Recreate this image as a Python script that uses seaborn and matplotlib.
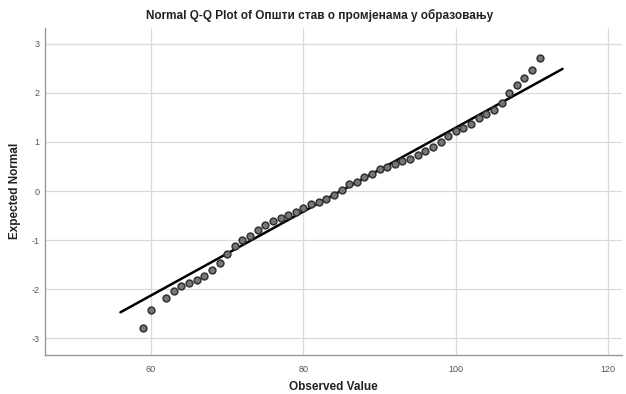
import numpy as np
import pandas as pd
import matplotlib
matplotlib.use("Agg")
import matplotlib.pyplot as plt
import seaborn as sns

# Data
observed = [59, 60, 62, 63, 64, 65, 66, 67, 68, 69, 70, 71, 72, 73, 74, 75, 76, 77,
            78, 79, 80, 81, 82, 83, 84, 85, 86, 87, 88, 89, 90, 91, 92, 93, 94, 95,
            96, 97, 98, 99, 100, 101, 102, 103, 104, 105, 106, 107, 108, 109, 110, 111]
expected = [-2.80, -2.42, -2.17, -2.03, -1.94, -1.88, -1.82, -1.73, -1.61, -1.47,
            -1.29, -1.13, -1.00, -0.91, -0.80, -0.69, -0.61, -0.55, -0.49, -0.43,
            -0.35, -0.26, -0.22, -0.16, -0.08, 0.02, 0.14, 0.19, 0.28, 0.34,
            0.44, 0.49, 0.55, 0.61, 0.66, 0.73, 0.81, 0.89, 1.00, 1.12,
            1.22, 1.29, 1.36, 1.49, 1.56, 1.66, 1.79, 1.99, 2.15, 2.30, 2.46, 2.70]
fit_mean = 84.9
fit_sd = 11.7
line_x = [56.0, 114.0]
x_ticks = [60, 80, 100, 120]
y_ticks = [-3, -2, -1, 0, 1, 2, 3]

title = "Normal Q-Q Plot of Општи став о промјенама у образовању"
xlabel = "Observed Value"
ylabel = "Expected Normal"

sns.set_style("whitegrid", {"grid.color": "#d9d9d9", "axes.edgecolor": "#999999"})
plt.rcParams["font.family"] = ["Liberation Sans", "DejaVu Sans"]
plt.rcParams["axes.unicode_minus"] = False

fig = plt.figure(figsize=(6.26, 3.94), dpi=100)
ax = fig.add_axes([45 / 626, 1 - 355 / 394, (622 - 45) / 626, (355 - 28) / 394])

df = pd.DataFrame({"obs": observed, "exp": expected})
line_df = pd.DataFrame({"x": line_x, "y": [(v - fit_mean) / fit_sd for v in line_x]})

sns.lineplot(data=line_df, x="x", y="y", ax=ax, color="black", linewidth=1.8, zorder=3)
sns.scatterplot(data=df, x="obs", y="exp", ax=ax, s=24, color="#777777",
                edgecolor="#333333", linewidth=1.1, zorder=4)

ax.set_xlim(46.1, 121.8)
ax.set_ylim(-3.34, 3.32)
ax.set_xticks(x_ticks)
ax.set_yticks(y_ticks)
ax.tick_params(length=0, labelsize=6.5, labelcolor="#555555")
ax.tick_params(axis="x", pad=7)
ax.tick_params(axis="y", pad=4)
ax.grid(True, linewidth=0.9)
for s in ["top", "right"]:
    ax.spines[s].set_visible(False)
for s in ["left", "bottom"]:
    ax.spines[s].set_color("#999999")
    ax.spines[s].set_linewidth(1.0)

ax.set_xlabel("")
ax.set_ylabel("")
fig.text(333 / 626, 1 - 387 / 394, xlabel, ha="center", va="center",
         fontsize=8.5, fontweight="bold", color="#222222")
fig.text(15 / 626, 1 - 191 / 394, ylabel, ha="center", va="center", rotation=90,
         fontsize=8.5, fontweight="bold", color="#222222")
fig.text(320 / 626, 1 - 15 / 394, title, ha="center", va="center",
         fontsize=8.5, fontweight="bold", color="#222222")

fig.savefig("out.png", dpi=100)
